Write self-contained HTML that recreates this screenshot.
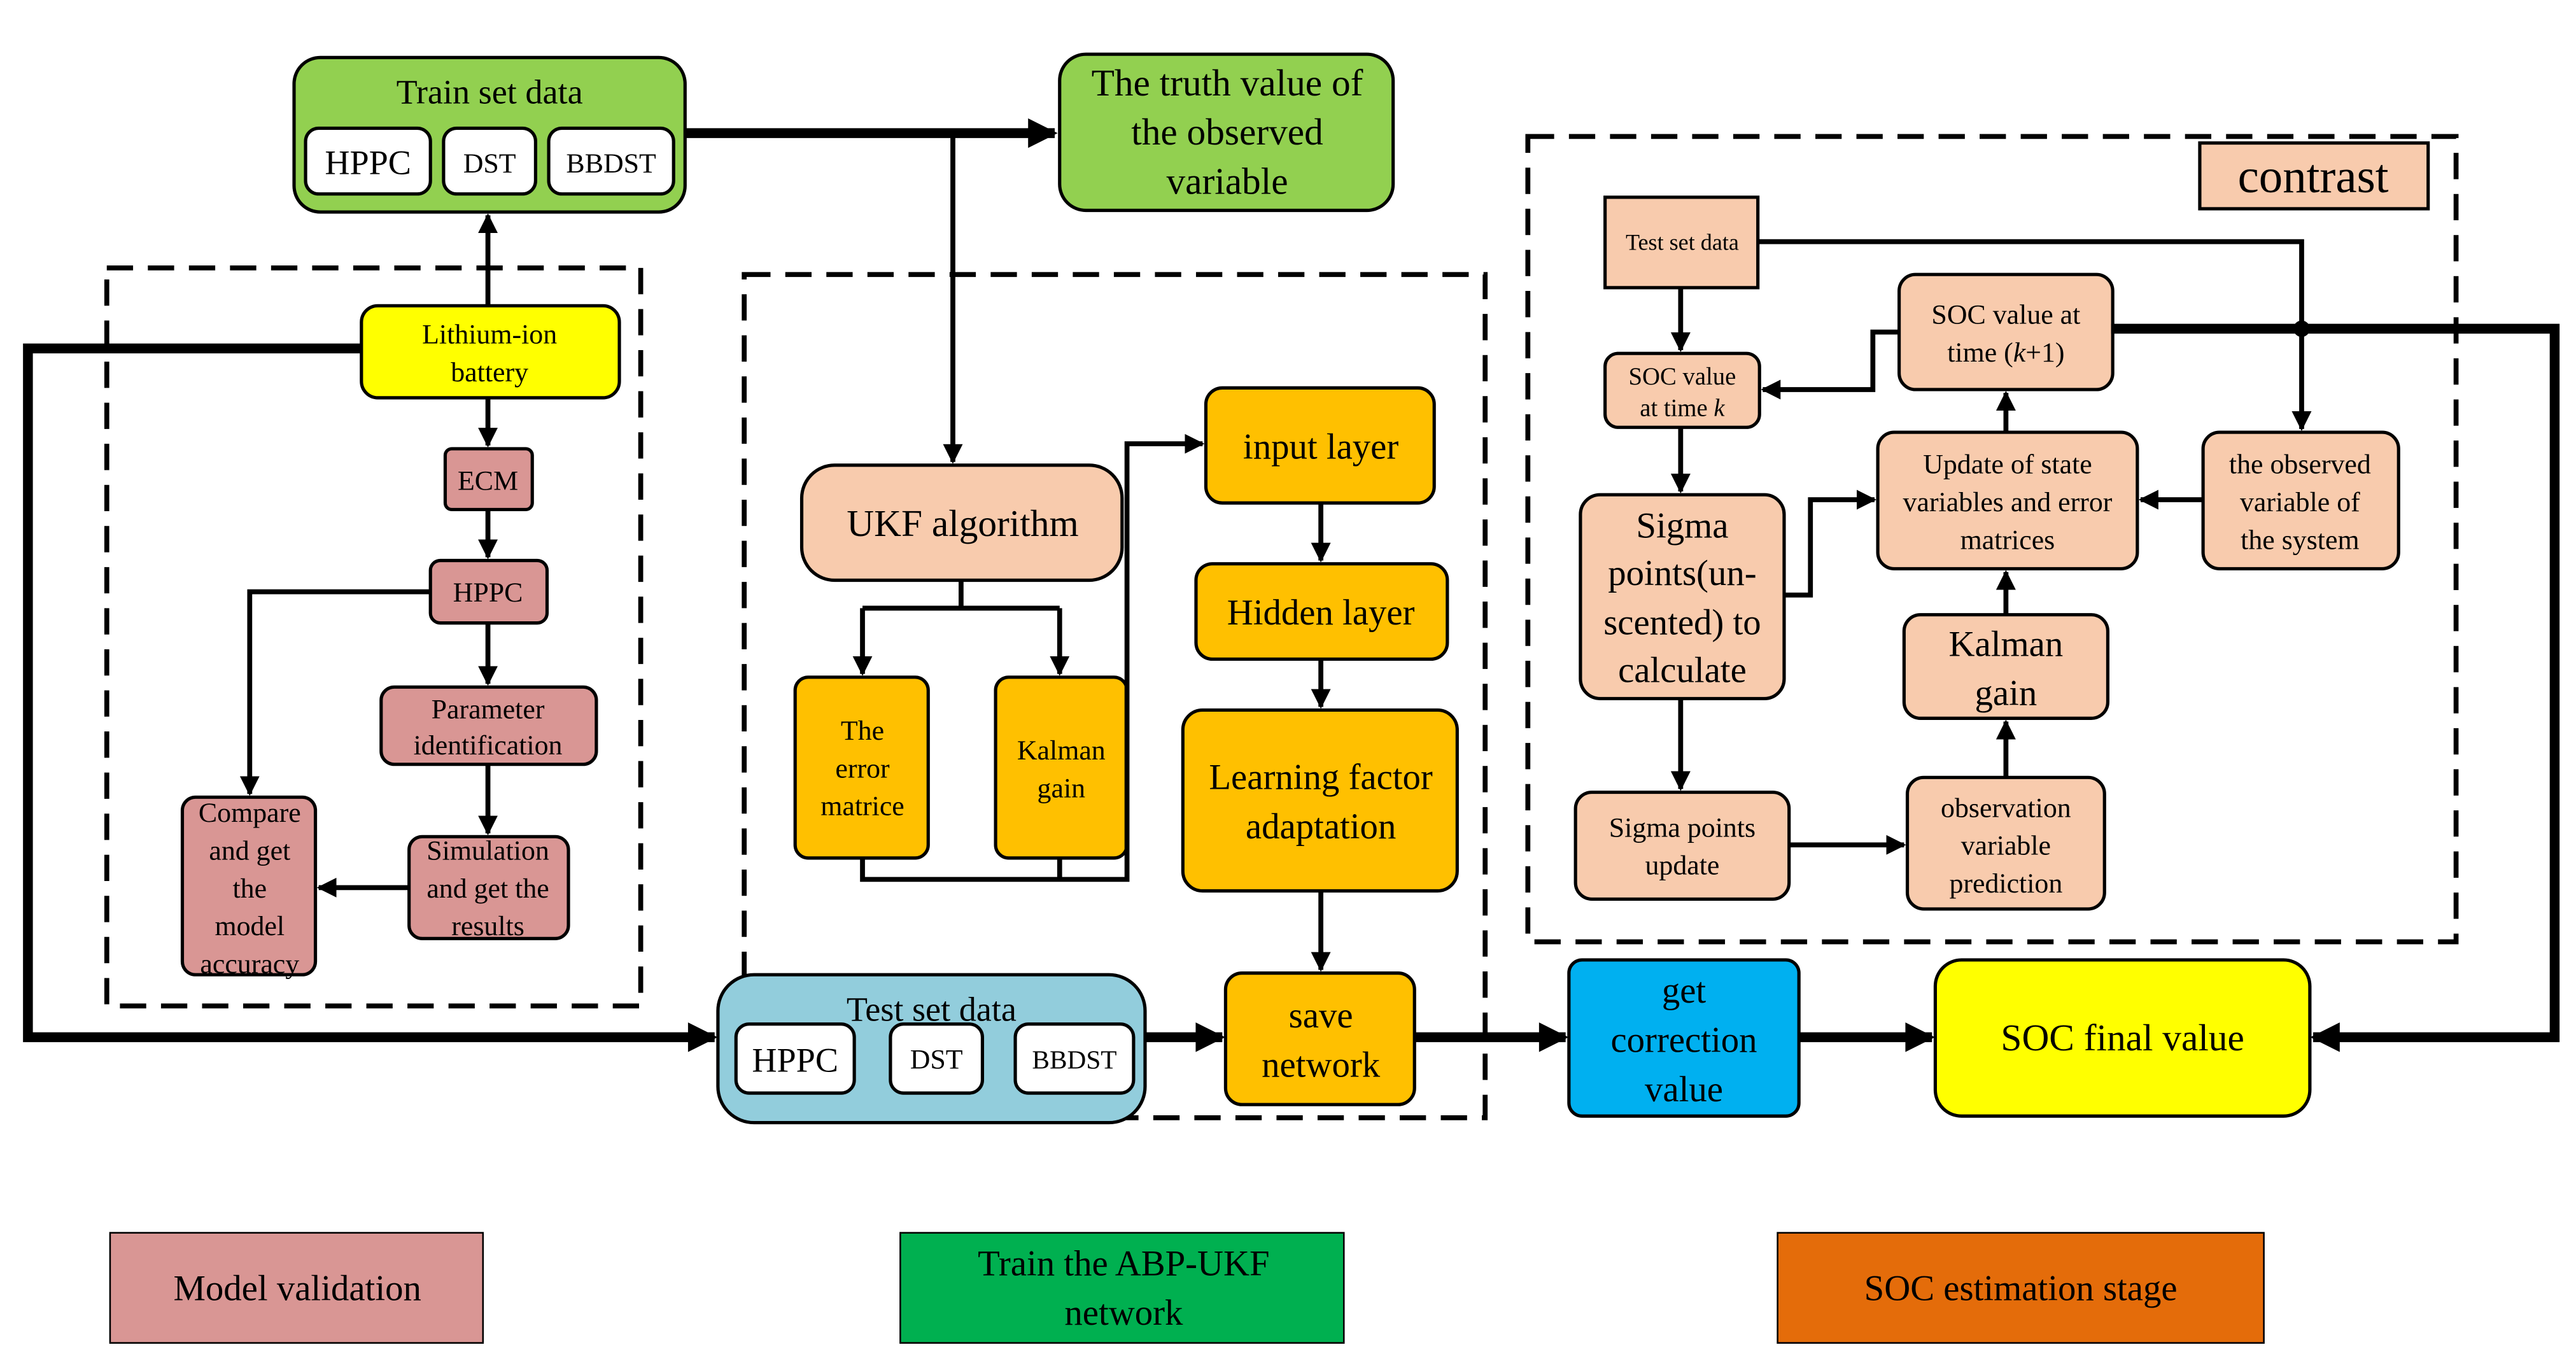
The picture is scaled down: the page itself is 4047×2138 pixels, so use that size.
<!DOCTYPE html>
<html><head><meta charset="utf-8"><style>
html,body{margin:0;padding:0;background:#fff}
svg{display:block}
text{font-family:"Liberation Serif",serif;fill:#000;text-anchor:middle}
</style></head><body>
<svg width="4047" height="2138" viewBox="0 0 1568 828" preserveAspectRatio="none" xmlns="http://www.w3.org/2000/svg">
<defs>
<marker id="a" viewBox="0 0 10 10" refX="9" refY="5" markerWidth="4" markerHeight="4" orient="auto" markerUnits="strokeWidth"><path d="M0,0 L10,5 L0,10 z" fill="#000"/></marker>
<marker id="b" viewBox="0 0 10 10" refX="9" refY="5" markerWidth="4.5" markerHeight="3" orient="auto" markerUnits="strokeWidth"><path d="M0,0 L10,5 L0,10 z" fill="#000"/></marker>
</defs>
<g fill="none" stroke="#000" stroke-width="3" stroke-dasharray="16,9">
<rect x="65" y="163" width="325" height="449"/>
<rect x="453" y="167" width="451" height="513"/>
<rect x="930" y="83" width="565" height="490"/>
</g>
<g stroke="#000" stroke-width="2">
<rect x="179" y="35" width="238" height="94" rx="16" fill="#92d050"/>
<rect x="186" y="78" width="76" height="40" rx="8" fill="#fff"/>
<rect x="270" y="78" width="56" height="40" rx="8" fill="#fff"/>
<rect x="334" y="78" width="76" height="40" rx="8" fill="#fff"/>
<rect x="645" y="33" width="203" height="95" rx="16" fill="#92d050"/>
<rect x="220" y="186" width="157" height="56" rx="10" fill="#ffff00"/>
<rect x="271" y="273" width="53" height="37" rx="4" fill="#d99694"/>
<rect x="262" y="341" width="71" height="38" rx="6" fill="#d99694"/>
<rect x="232" y="418" width="131" height="47" rx="8" fill="#d99694"/>
<rect x="249" y="509" width="97" height="62" rx="8" fill="#d99694"/>
<rect x="111" y="485" width="81" height="108" rx="8" fill="#d99694"/>
<rect x="488" y="283" width="195" height="70" rx="20" fill="#f8cbad"/>
<rect x="484" y="412" width="81" height="110" rx="8" fill="#ffc000"/>
<rect x="606" y="412" width="80" height="110" rx="8" fill="#ffc000"/>
<rect x="734" y="236" width="139" height="70" rx="10" fill="#ffc000"/>
<rect x="728" y="343" width="153" height="58" rx="10" fill="#ffc000"/>
<rect x="720" y="432" width="167" height="110" rx="12" fill="#ffc000"/>
<rect x="746" y="592" width="115" height="80" rx="10" fill="#ffc000"/>
<rect x="437" y="593" width="260" height="90" rx="22" fill="#92cddc"/>
<rect x="448" y="623" width="72" height="42" rx="8" fill="#fff"/>
<rect x="542" y="623" width="56" height="42" rx="8" fill="#fff"/>
<rect x="618" y="623" width="72" height="42" rx="8" fill="#fff"/>
<rect x="955" y="584" width="140" height="95" rx="8" fill="#00b0f0"/>
<rect x="1178" y="584" width="228" height="95" rx="16" fill="#ffff00"/>
<rect x="1339" y="87" width="139" height="40" fill="#f8cbad"/>
<rect x="977" y="120" width="93" height="55" fill="#f8cbad"/>
<rect x="977" y="215" width="94" height="45" rx="8" fill="#f8cbad"/>
<rect x="1156" y="167" width="130" height="70" rx="10" fill="#f8cbad"/>
<rect x="962" y="301" width="124" height="124" rx="12" fill="#f8cbad"/>
<rect x="1143" y="263" width="158" height="83" rx="10" fill="#f8cbad"/>
<rect x="1341" y="263" width="119" height="83" rx="10" fill="#f8cbad"/>
<rect x="1159" y="374" width="124" height="63" rx="10" fill="#f8cbad"/>
<rect x="959" y="482" width="130" height="65" rx="10" fill="#f8cbad"/>
<rect x="1161" y="473" width="120" height="80" rx="10" fill="#f8cbad"/>
<rect x="67" y="750" width="227" height="67" fill="#d99694" stroke-width="1"/>
<rect x="548" y="750" width="270" height="67" fill="#00b050" stroke-width="1"/>
<rect x="1082" y="750" width="296" height="67" fill="#e46c0a" stroke-width="1"/>
</g>
<g fill="none" stroke="#000" stroke-width="3">
<path d="M297,186 V131" marker-end="url(#a)"/>
<path d="M297,242 V271" marker-end="url(#a)"/>
<path d="M297,310 V339" marker-end="url(#a)"/>
<path d="M297,379 V416" marker-end="url(#a)"/>
<path d="M297,465 V507" marker-end="url(#a)"/>
<path d="M262,360 H152 V483" marker-end="url(#a)"/>
<path d="M249,540 H194" marker-end="url(#a)"/>
<path d="M580,80 V281" marker-end="url(#a)"/>
<path d="M585,353 V370 M525,370 H645"/>
<path d="M525,370 V410" marker-end="url(#a)"/>
<path d="M645,370 V410" marker-end="url(#a)"/>
<path d="M525,522 V535 H686 V270 H732" marker-end="url(#a)"/>
<path d="M645,522 V535"/>
<path d="M804,306 V341" marker-end="url(#a)"/>
<path d="M804,401 V430" marker-end="url(#a)"/>
<path d="M804,542 V590" marker-end="url(#a)"/>
<path d="M1070,147 H1401 V261" marker-end="url(#a)"/>
<path d="M1023,175 V213" marker-end="url(#a)"/>
<path d="M1156,202 H1140 V237 H1073" marker-end="url(#a)"/>
<path d="M1023,260 V299" marker-end="url(#a)"/>
<path d="M1341,304 H1303" marker-end="url(#a)"/>
<path d="M1221,263 V239" marker-end="url(#a)"/>
<path d="M1086,362 H1102 V304 H1141" marker-end="url(#a)"/>
<path d="M1221,374 V348" marker-end="url(#a)"/>
<path d="M1023,425 V480" marker-end="url(#a)"/>
<path d="M1089,514 H1159" marker-end="url(#a)"/>
<path d="M1221,473 V439" marker-end="url(#a)"/>
</g>
<g fill="none" stroke="#000" stroke-width="6">
<path d="M417,81 H642" marker-end="url(#b)"/>
<path d="M220,212 H17 V631 H435" marker-end="url(#b)"/>
<path d="M697,631 H744" marker-end="url(#b)"/>
<path d="M861,631 H953" marker-end="url(#b)"/>
<path d="M1095,631 H1176" marker-end="url(#b)"/>
<path d="M1285,200 H1555 V631 H1408" marker-end="url(#b)"/>
</g>
<circle cx="1401" cy="200" r="5" fill="#000"/>
<g font-size="21">
<text x="298" y="63">Train set data</text>
<text x="224" y="106">HPPC</text>
<text x="298" y="105" font-size="17">DST</text>
<text x="372" y="105" font-size="17">BBDST</text>
<text x="747" y="58" font-size="23">The truth value of</text>
<text x="747" y="88" font-size="23">the observed</text>
<text x="747" y="118" font-size="23">variable</text>
<text x="298" y="209" font-size="17">Lithium-ion</text>
<text x="298" y="232" font-size="17">battery</text>
<text x="297" y="298" font-size="17">ECM</text>
<text x="297" y="366" font-size="17">HPPC</text>
<text x="297" y="437" font-size="17">Parameter</text>
<text x="297" y="459" font-size="17">identification</text>
<text x="297" y="523" font-size="17">Simulation</text>
<text x="297" y="546" font-size="17">and get the</text>
<text x="297" y="569" font-size="17">results</text>
<text x="152" y="500" font-size="17">Compare</text>
<text x="152" y="523" font-size="17">and get</text>
<text x="152" y="546" font-size="17">the</text>
<text x="152" y="569" font-size="17">model</text>
<text x="152" y="592" font-size="17">accuracy</text>
<text x="586" y="326" font-size="23">UKF algorithm</text>
<text x="525" y="450" font-size="17">The</text>
<text x="525" y="473" font-size="17">error</text>
<text x="525" y="496" font-size="17">matrice</text>
<text x="646" y="462" font-size="17">Kalman</text>
<text x="646" y="485" font-size="17">gain</text>
<text x="804" y="279" font-size="22">input layer</text>
<text x="804" y="380" font-size="22">Hidden layer</text>
<text x="804" y="480" font-size="22">Learning factor</text>
<text x="804" y="510" font-size="22">adaptation</text>
<text x="804" y="625" font-size="22">save</text>
<text x="804" y="655" font-size="22">network</text>
<text x="567" y="621">Test set data</text>
<text x="484" y="652">HPPC</text>
<text x="570" y="650" font-size="17">DST</text>
<text x="654" y="650" font-size="16">BBDST</text>
<text x="1025" y="610" font-size="22">get</text>
<text x="1025" y="640" font-size="22">correction</text>
<text x="1025" y="670" font-size="22">value</text>
<text x="1292" y="639" font-size="23">SOC final value</text>
<text x="1408" y="117" font-size="29">contrast</text>
<text x="1024" y="152" font-size="14">Test set data</text>
<text x="1024" y="234" font-size="15">SOC value</text>
<text x="1024" y="253" font-size="15">at time <tspan font-style="italic">k</tspan></text>
<text x="1221" y="197" font-size="17">SOC value at</text>
<text x="1221" y="220" font-size="17">time (<tspan font-style="italic">k</tspan>+1)</text>
<text x="1024" y="327" font-size="22">Sigma</text>
<text x="1024" y="356" font-size="22">points(un-</text>
<text x="1024" y="386" font-size="22">scented) to</text>
<text x="1024" y="415" font-size="22">calculate</text>
<text x="1222" y="288" font-size="17">Update of state</text>
<text x="1222" y="311" font-size="17">variables and error</text>
<text x="1222" y="334" font-size="17">matrices</text>
<text x="1400" y="288" font-size="17">the observed</text>
<text x="1400" y="311" font-size="17">variable of</text>
<text x="1400" y="334" font-size="17">the system</text>
<text x="1221" y="399" font-size="22">Kalman</text>
<text x="1221" y="429" font-size="22">gain</text>
<text x="1024" y="509" font-size="17">Sigma points</text>
<text x="1024" y="532" font-size="17">update</text>
<text x="1221" y="497" font-size="17">observation</text>
<text x="1221" y="520" font-size="17">variable</text>
<text x="1221" y="543" font-size="17">prediction</text>
<text x="181" y="791" font-size="22">Model validation</text>
<text x="684" y="776" font-size="22">Train the ABP-UKF</text>
<text x="684" y="806" font-size="22">network</text>
<text x="1230" y="791" font-size="22">SOC estimation stage</text>
</g>
</svg>
</body></html>
